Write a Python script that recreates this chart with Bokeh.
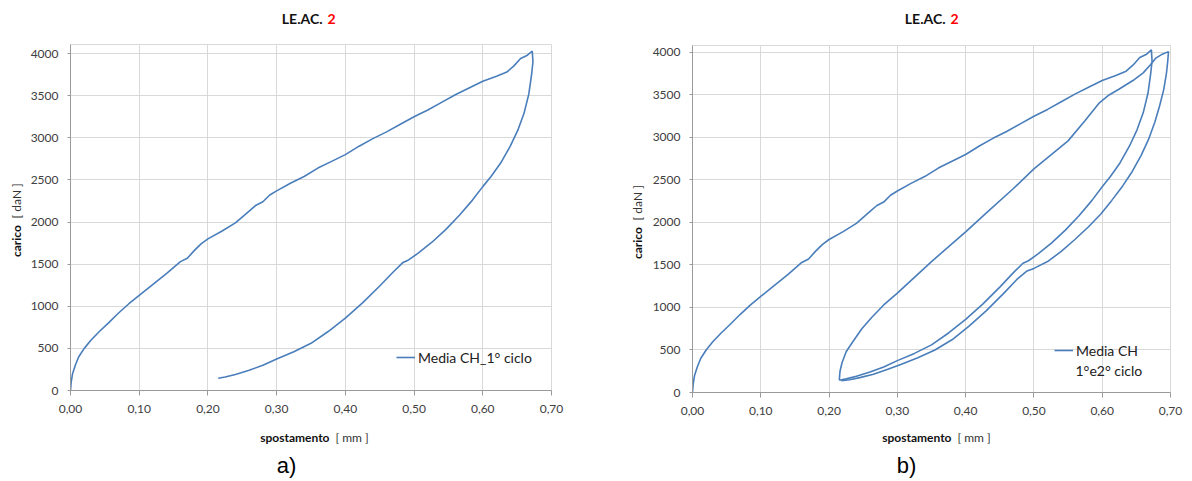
import numpy as np
from bokeh.plotting import figure
from bokeh.models import Label, Legend, LegendItem, CustomJSTickFormatter, FixedTicker, Range1d
from bokeh.layouts import row, column
from bokeh.core.properties import value
from bokeh.embed import file_html
from bokeh.resources import INLINE

# ---------------- data ----------------
x_ticks = [0.0, 0.1, 0.2, 0.3, 0.4, 0.5, 0.6, 0.7]
y_ticks = [0, 500, 1000, 1500, 2000, 2500, 3000, 3500, 4000]

# 1st cycle: loading + unloading (spostamento mm, carico daN)
c1_x = [0.000, 0.001, 0.003, 0.007, 0.012, 0.020, 0.030, 0.042, 0.055, 0.070, 0.085,
        0.100, 0.120, 0.140, 0.160, 0.170, 0.180, 0.190, 0.200, 0.220, 0.240, 0.260,
        0.270, 0.280, 0.290, 0.300, 0.320, 0.340, 0.360, 0.380, 0.400, 0.420, 0.440,
        0.460, 0.480, 0.500, 0.520, 0.540, 0.560, 0.580, 0.600, 0.620, 0.635, 0.645,
        0.655, 0.665, 0.672,
        0.673, 0.671, 0.667, 0.660, 0.651, 0.640, 0.626, 0.612, 0.600, 0.585, 0.566,
        0.546, 0.526, 0.506, 0.492, 0.484, 0.470, 0.450, 0.425, 0.400, 0.375, 0.350,
        0.325, 0.300, 0.280, 0.260, 0.240, 0.225, 0.215]
c1_y = [0, 100, 200, 300, 400, 500, 600, 700, 800, 920, 1030,
        1130, 1260, 1390, 1530, 1570, 1660, 1740, 1800, 1890, 1990, 2130,
        2200, 2240, 2320, 2370, 2460, 2540, 2640, 2720, 2800, 2900, 2990,
        3070, 3160, 3250, 3330, 3420, 3510, 3590, 3670, 3730, 3780, 3850,
        3940, 3980, 4030,
        3900, 3750, 3520, 3290, 3090, 2900, 2700, 2540, 2420, 2260, 2080,
        1910, 1760, 1630, 1550, 1520, 1410, 1240, 1040, 860, 700, 560,
        460, 375, 300, 240, 190, 160, 145]

# 2nd cycle: loading + unloading
c2_x = [0.215, 0.216, 0.219, 0.225, 0.235, 0.248, 0.262, 0.280, 0.300, 0.350, 0.400,
        0.430, 0.470, 0.500, 0.550, 0.575, 0.595, 0.610, 0.625, 0.645, 0.660, 0.670,
        0.678, 0.688, 0.697,
        0.696, 0.694, 0.690, 0.684, 0.677, 0.668, 0.657, 0.644, 0.630, 0.614, 0.598,
        0.580, 0.560, 0.540, 0.520, 0.500, 0.490, 0.475, 0.455, 0.430, 0.405, 0.380,
        0.355, 0.330, 0.305, 0.285, 0.265, 0.245, 0.230, 0.218]
c2_y = [145, 250, 350, 480, 600, 750, 880, 1030, 1170, 1540, 1890,
        2110, 2400, 2630, 2960, 3200, 3400, 3500, 3570, 3670, 3760, 3850,
        3930, 3980, 4010,
        3900, 3750, 3560, 3370, 3180, 2980, 2790, 2600, 2430, 2260, 2100,
        1950, 1800, 1660, 1540, 1460, 1430, 1330, 1160, 960, 780, 620,
        500, 410, 330, 270, 215, 175, 150, 140]

title_main = "LE.AC."
title_num = "2"
y_label_bold = "carico"
y_label_unit = "[ daN ]"
x_label_bold = "spostamento"
x_label_unit = "[ mm ]"

LINE = "#4a7ebb"
FONT = "Lato"
TICKC = "#404040"
XMAX = 0.70
PANEL_W = 596
PAGE_H = 481


def strip(w, h):
    s = figure(width=w, height=h, x_range=Range1d(0, w), y_range=Range1d(0, h),
               min_border=0, toolbar_location=None, output_backend="svg",
               x_axis_location=None, y_axis_location=None, title=None)
    s.grid.visible = False
    s.outline_line_color = None
    s.background_fill_color = "white"
    s.border_fill_color = "white"
    return s


def make_panel(page_x0, top_h, ylab_w, fx0, fw, fh, ymax, curves, legend_text, legend_loc,
               extra_legend, extra_pos, title_end, ylab_x, ylab_y_bold, ylab_y_unit,
               xlab_end, letter, letter_x):
    page_top = top_h                       # page y of frame top
    fy0 = page_top + fh                    # page y of frame bottom
    bottom_border = 30
    main_left = fx0 - (page_x0 + ylab_w)
    main_right = PANEL_W - ylab_w - main_left - fw
    main_h = fh + bottom_border
    bot_h = PAGE_H - top_h - main_h

    # ---- title strip
    t = strip(PANEL_W, top_h)
    ty = top_h - 18
    t.text(x=[title_end - page_x0], y=[ty], text=[title_main], text_align="right",
           text_baseline="middle", text_font=value(FONT), text_font_style="bold",
           text_font_size="14px", text_color="#111111")
    t.text(x=[title_end - page_x0 + 5], y=[ty], text=[title_num], text_align="left",
           text_baseline="middle", text_font=value(FONT), text_font_style="bold",
           text_font_size="14px", text_color="#ff0000")

    # ---- y-label strip
    yl = strip(ylab_w, main_h)
    ybase = page_top + main_h
    yl.text(x=[ylab_x - page_x0], y=[ybase - ylab_y_bold], text=[y_label_bold],
            angle=np.pi / 2, text_align="left", text_baseline="middle",
            text_font=value(FONT), text_font_style="bold", text_font_size="12px",
            text_color="#111111")
    yl.text(x=[ylab_x - page_x0], y=[ybase - ylab_y_unit], text=[y_label_unit],
            angle=np.pi / 2, text_align="left", text_baseline="middle",
            text_font=value(FONT), text_font_size="12px", text_color="#333333")

    # ---- main chart
    p = figure(frame_width=fw, frame_height=fh, output_backend="svg", toolbar_location=None,
               x_range=Range1d(0, XMAX), y_range=Range1d(0, ymax), title=None,
               min_border_left=main_left, min_border_right=main_right,
               min_border_top=0, min_border_bottom=bottom_border)
    p.background_fill_color = "white"
    p.border_fill_color = "white"
    p.outline_line_color = "#d9d9d9"
    p.xaxis.ticker = FixedTicker(ticks=x_ticks)
    p.yaxis.ticker = FixedTicker(ticks=y_ticks)
    p.xaxis.formatter = CustomJSTickFormatter(code="return tick.toFixed(2).replace('.', ',');")
    for ax in (p.xaxis, p.yaxis):
        ax.axis_line_color = "#9a9a9a"
        ax.major_tick_line_color = "#9a9a9a"
        ax.minor_tick_line_color = None
        ax.major_tick_in = 0
        ax.major_label_text_font = FONT
        ax.major_label_text_font_size = "12px"
        ax.major_label_text_color = TICKC
    p.xaxis.major_tick_out = 5
    p.yaxis.major_tick_out = 3
    p.xaxis.major_label_standoff = 9
    p.yaxis.major_label_standoff = 9
    p.xgrid.grid_line_color = "#d9d9d9"
    p.ygrid.grid_line_color = "#d9d9d9"

    renderers = [p.line(cx, cy, line_color=LINE, line_width=1.6) for cx, cy in curves]
    legend = Legend(items=[LegendItem(label=legend_text, renderers=[renderers[0]])],
                    location=legend_loc, border_line_color=None, background_fill_alpha=0,
                    padding=0, margin=0, glyph_width=19, glyph_height=20, label_height=20,
                    label_standoff=3, label_text_font=FONT, label_text_font_size="14px",
                    label_text_color="#222222")
    p.add_layout(legend)
    if extra_legend:
        ex = (extra_pos[0] - fx0) / fw * XMAX
        ey = (fy0 - extra_pos[1]) / fh * ymax
        p.add_layout(Label(x=ex, y=ey, text=extra_legend, text_font=FONT,
                           text_font_size="14px", text_color="#222222",
                           text_baseline="middle"))

    # ---- bottom strip
    b = strip(PANEL_W, bot_h)
    b.text(x=[xlab_end - page_x0], y=[PAGE_H - 437], text=[x_label_bold], text_align="right",
           text_baseline="middle", text_font=value(FONT), text_font_style="bold",
           text_font_size="12px", text_color="#111111")
    b.text(x=[xlab_end - page_x0 + 6], y=[PAGE_H - 437], text=[x_label_unit],
           text_align="left", text_baseline="middle", text_font=value(FONT),
           text_font_size="12px", text_color="#333333")
    b.text(x=[letter_x - page_x0], y=[PAGE_H - 465], text=[letter], text_align="center",
           text_baseline="middle", text_font=value("Liberation Sans"),
           text_font_size="22px", text_color="#000000")

    return column(t, row(yl, p), b)


left = make_panel(page_x0=0, top_h=44, ylab_w=24, fx0=70, fw=481, fh=346, ymax=4107,
                  curves=[(c1_x, c1_y)], legend_text="Media CH_1° ciclo",
                  legend_loc=(326, 23), extra_legend=None, extra_pos=None,
                  title_end=322, ylab_x=16, ylab_y_bold=275, ylab_y_unit=233,
                  xlab_end=329, letter="a)", letter_x=286)
right = make_panel(page_x0=596, top_h=45, ylab_w=50, fx0=692, fw=478, fh=347, ymax=4082,
                   curves=[(c1_x, c1_y), (c2_x, c2_y)], legend_text="Media CH",
                   legend_loc=(362, 32), extra_legend="1°e2° ciclo", extra_pos=(1075, 370),
                   title_end=945, ylab_x=637, ylab_y_bold=277, ylab_y_unit=235,
                   xlab_end=951, letter="b)", letter_x=906)

layout = row(left, right)
open("out.html", "w").write(file_html(layout, INLINE))
